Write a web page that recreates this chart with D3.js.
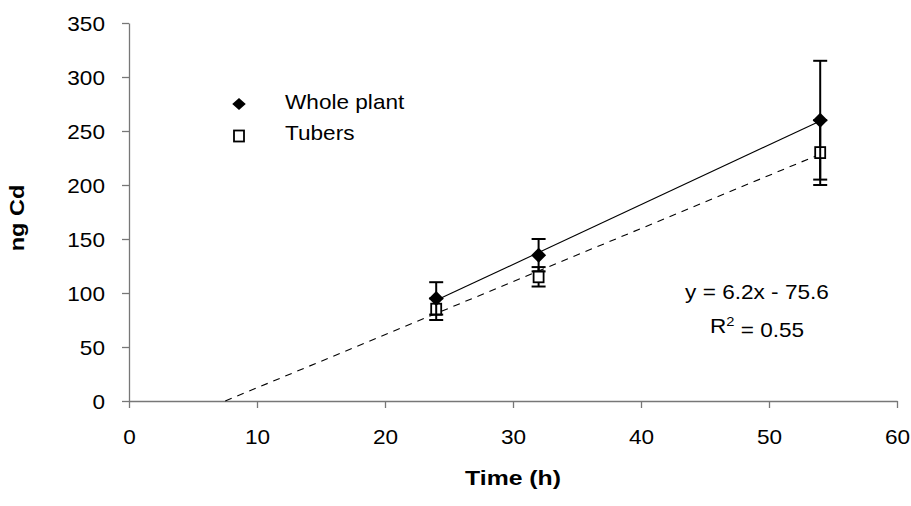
<!DOCTYPE html>
<html>
<head>
<meta charset="utf-8">
<script src="https://cdn.jsdelivr.net/npm/d3@7"></script>
<style>
  html, body { margin: 0; padding: 0; background: #fff; }
  text { font-family: Arial, "Liberation Sans", sans-serif; fill: #000; }
</style>
</head>
<body>
<svg id="chart" width="911" height="506"></svg>
<script>
// Cadmium accumulation over time
const timePoints = [24, 32, 54];
const wholePlant = [95, 135, 260];
const wholePlantErr = [15, 15, 55];
const tubers = [85, 115, 230];
const tubersErr = [10, 9, 30];
const xTicks = [0, 10, 20, 30, 40, 50, 60];
const yTicks = [0, 50, 100, 150, 200, 250, 300, 350];
const seriesNames = ["Whole plant", "Tubers"];
const equationText = "y = 6.2x - 75.6";
const r2Value = "0.55";

const STRETCH = 1.13;   // glyphs are a bit wider than plain Arial
const FONT = "20px";
const svg = d3.select("#chart");
const x = d3.scaleLinear().domain([0, 60]).range([129, 897]);
const y = d3.scaleLinear().domain([0, 350]).range([401, 23]);
const axisColor = "#777";

// axes
const gx = svg.append("g").attr("transform", `translate(0,${y(0)})`)
  .call(d3.axisBottom(x).tickValues(xTicks).tickSize(7).tickSizeOuter(0).tickFormat(d3.format("d")));
const gy = svg.append("g").attr("transform", `translate(${x(0)},0)`)
  .call(d3.axisLeft(y).tickValues(yTicks).tickSize(7).tickSizeOuter(0).tickFormat(d3.format("d")));
[gx, gy].forEach(g => {
  g.select(".domain").attr("stroke", axisColor).attr("stroke-width", 1.3);
  g.selectAll(".tick line").attr("stroke", axisColor).attr("stroke-width", 1.3);
  g.selectAll(".tick text").style("font-size", FONT).attr("fill", "#000");
});
gx.selectAll(".tick text").attr("y", 0).attr("dy", "0.35em")
  .attr("transform", `translate(0,36) scale(${STRETCH},1)`);
gy.selectAll(".tick text").attr("x", 0).attr("dy", "0.35em")
  .attr("transform", `translate(-24,0) scale(${STRETCH},1)`);

// least-squares trend lines
function fit(xs, ys) {
  const mx = d3.mean(xs), my = d3.mean(ys);
  const sxy = d3.sum(xs, (v, i) => (v - mx) * (ys[i] - my));
  const sxx = d3.sum(xs, v => (v - mx) * (v - mx));
  const m = sxy / sxx;
  return { m, b: my - m * mx };
}
const fw = fit(timePoints, wholePlant);
const ft = fit(timePoints, tubers);
const line = d3.line().x(d => x(d[0])).y(d => y(d[1]));
const xStart = d3.min(timePoints), xEnd = d3.max(timePoints);
svg.append("path")
  .attr("d", line([[xStart, fw.m * xStart + fw.b], [xEnd, fw.m * xEnd + fw.b]]))
  .attr("stroke", "#000").attr("stroke-width", 1.1).attr("fill", "none");
const t0 = -ft.b / ft.m;
svg.append("path")
  .attr("d", line([[t0, 0], [xEnd, ft.m * xEnd + ft.b]]))
  .attr("stroke", "#000").attr("stroke-width", 1.1).attr("fill", "none")
  .attr("stroke-dasharray", "7,6");

// error bars
function errorBars(vals, errs) {
  const g = svg.append("g").attr("stroke", "#000").attr("stroke-width", 2);
  timePoints.forEach((t, i) => {
    const cx = x(t), lo = y(vals[i] - errs[i]), hi = y(vals[i] + errs[i]);
    g.append("line").attr("x1", cx).attr("x2", cx).attr("y1", lo).attr("y2", hi);
    g.append("line").attr("x1", cx - 7).attr("x2", cx + 7).attr("y1", lo).attr("y2", lo);
    g.append("line").attr("x1", cx - 7).attr("x2", cx + 7).attr("y1", hi).attr("y2", hi);
  });
}
const diamond = "M0,-7.5L7.5,0L0,7.5L-7.5,0Z";
function square(g, cx, cy) {
  g.append("rect").attr("x", cx - 5).attr("y", cy - 5.5).attr("width", 10).attr("height", 11)
    .attr("fill", "#fff").attr("stroke", "#000").attr("stroke-width", 1.8);
}

// tubers first, whole plant on top
errorBars(tubers, tubersErr);
const gt = svg.append("g");
timePoints.forEach((t, i) => square(gt, x(t), y(tubers[i])));
errorBars(wholePlant, wholePlantErr);
svg.append("g").selectAll("path").data(timePoints).join("path")
  .attr("d", diamond)
  .attr("transform", (t, i) => `translate(${x(t)},${y(wholePlant[i])})`)
  .attr("fill", "#000");

// legend
const lg = svg.append("g");
lg.append("path").attr("d", diamond).attr("transform", "translate(239,104) scale(0.9,0.8)").attr("fill", "#000");
square(lg, 239, 136);
seriesNames.forEach((name, i) => {
  lg.append("text").attr("transform", `translate(285,${102 + i * 31}) scale(${STRETCH},1)`)
    .attr("dy", "0.35em").style("font-size", FONT).text(name);
});

// regression label
const eq = svg.append("g").attr("transform", "translate(757,0)");
eq.append("text").attr("transform", `translate(0,292) scale(${STRETCH},1)`).attr("dy", "0.35em")
  .attr("text-anchor", "middle").style("font-size", FONT).text(equationText);
const r2 = eq.append("text").attr("transform", `translate(0,326) scale(${STRETCH},1)`).attr("dy", "0.35em")
  .attr("text-anchor", "middle").style("font-size", FONT);
r2.append("tspan").text("R");
r2.append("tspan").attr("dy", "-0.55em").style("font-size", "13px").text("2");
r2.append("tspan").attr("dy", "0.55em").text(" = " + r2Value);

// axis titles
svg.append("text").attr("transform", `translate(513,478) scale(1.18,1)`).attr("dy", "0.35em")
  .attr("text-anchor", "middle").style("font-size", "21px").style("font-weight", "bold").text("Time (h)");
svg.append("text").attr("transform", `translate(17,218) rotate(-90) scale(1.12,1)`).attr("dy", "0.35em")
  .attr("text-anchor", "middle").style("font-size", "21px").style("font-weight", "bold").text("ng Cd");
</script>
</body>
</html>
